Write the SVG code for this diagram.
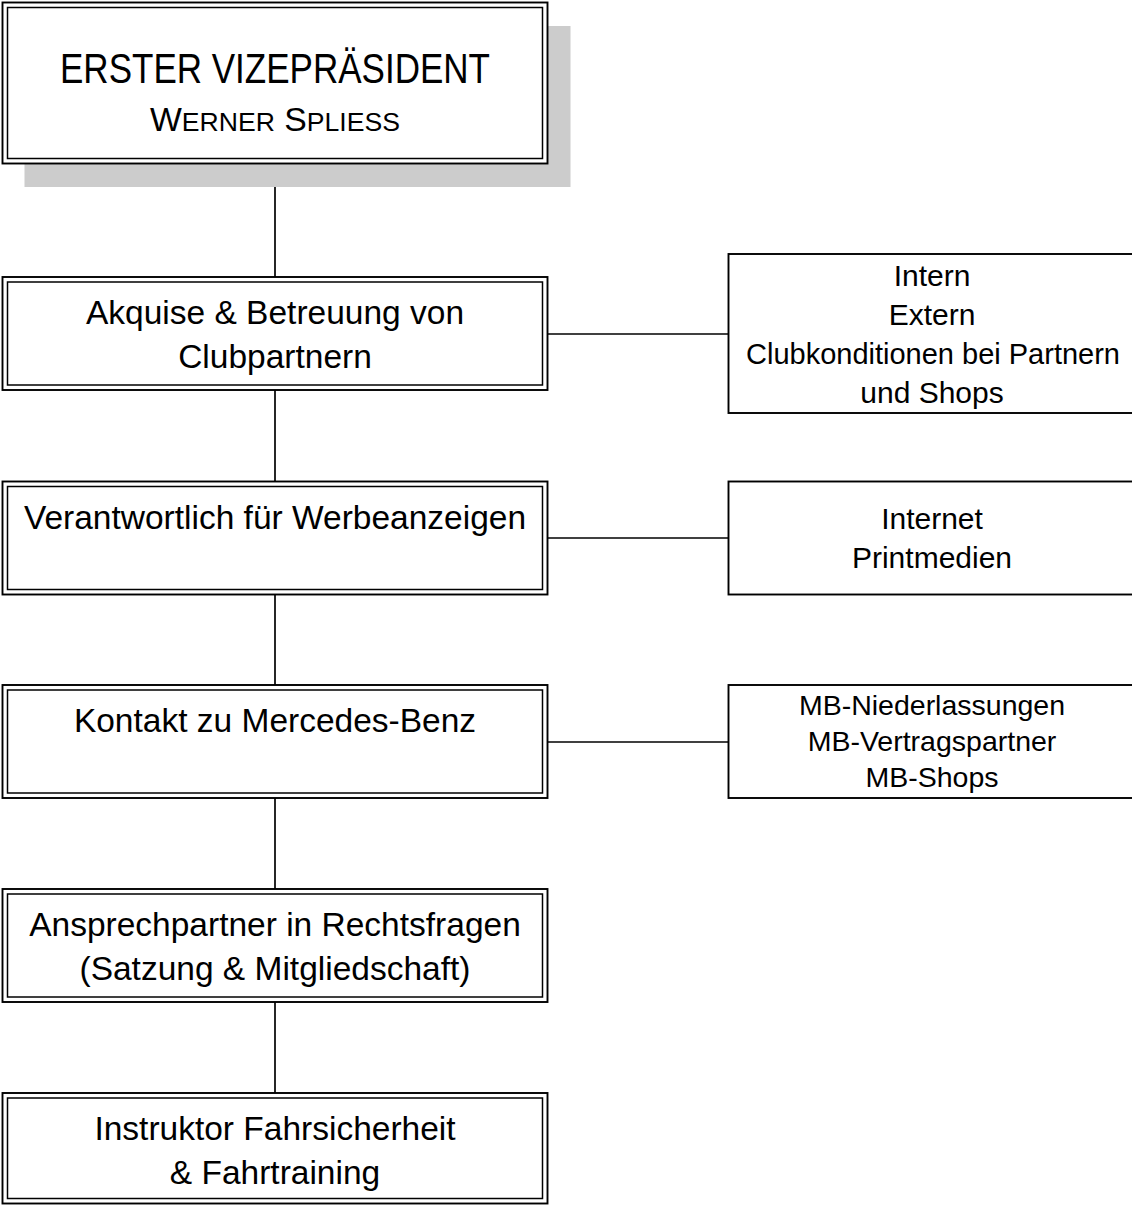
<svg xmlns="http://www.w3.org/2000/svg" width="1132" height="1206" viewBox="0 0 1132 1206">
<style>
.o{fill:none;stroke:#000;stroke-width:1.9}
.i{fill:none;stroke:#000;stroke-width:1.5}
.r{fill:#fff;stroke:#000;stroke-width:1.9}
.bg{fill:#fff}
.t{font-family:"Liberation Sans",Arial,sans-serif;font-size:33.5px;fill:#000;text-anchor:middle}
.s{font-family:"Liberation Sans",Arial,sans-serif;font-size:30px;fill:#000;text-anchor:middle}
.s2{font-family:"Liberation Sans",Arial,sans-serif;font-size:28.5px;fill:#000;text-anchor:middle}
.c{fill:none;stroke:#000;stroke-width:1.7}
</style>
<rect width="1132" height="1206" fill="#fff"/>
<g id="connectors">
<line class="c" x1="275" y1="163" x2="275" y2="277"/>
<line class="c" x1="275" y1="390" x2="275" y2="481.5"/>
<line class="c" x1="275" y1="594.5" x2="275" y2="685"/>
<line class="c" x1="275" y1="798" x2="275" y2="889"/>
<line class="c" x1="275" y1="1002" x2="275" y2="1093"/>
<line class="c" x1="547.5" y1="334" x2="728.5" y2="334"/>
<line class="c" x1="547.5" y1="538" x2="728.5" y2="538"/>
<line class="c" x1="547.5" y1="742" x2="728.5" y2="742"/>
</g>
<g id="vp">
<rect x="24.5" y="26" width="546" height="161" fill="#cccccc"/>
<rect x="2.5" y="2.5" width="545" height="161" class="bg"/>
<rect class="o" x="2.5" y="2.5" width="545" height="161"/>
<rect class="i" x="7.5" y="7.5" width="535" height="151"/>
<text x="275" y="83" font-family="'Liberation Sans',Arial,sans-serif" font-size="43" text-anchor="middle" textLength="430" lengthAdjust="spacingAndGlyphs">ERSTER VIZEPRÄSIDENT</text>
<text x="275" y="131" font-family="'Liberation Sans',Arial,sans-serif" font-size="33" text-anchor="middle" textLength="250" lengthAdjust="spacingAndGlyphs">W<tspan font-size="26">ERNER</tspan> S<tspan font-size="26">PLIESS</tspan></text>
</g>
<g id="akquise">
<rect class="r" x="2.5" y="277" width="545" height="113"/>
<rect class="i" x="7.5" y="282" width="535" height="103"/>
<text class="t" x="275" y="324">Akquise &amp; Betreuung von</text>
<text class="t" x="275" y="368">Clubpartnern</text>
</g>
<g id="werbung">
<rect class="r" x="2.5" y="481.5" width="545" height="113"/>
<rect class="i" x="7.5" y="486.5" width="535" height="103"/>
<text class="t" x="275" y="528.5">Verantwortlich für Werbeanzeigen</text>
</g>
<g id="mercedes">
<rect class="r" x="2.5" y="685" width="545" height="113"/>
<rect class="i" x="7.5" y="690" width="535" height="103"/>
<text class="t" x="275" y="732">Kontakt zu Mercedes-Benz</text>
</g>
<g id="recht">
<rect class="r" x="2.5" y="889" width="545" height="113"/>
<rect class="i" x="7.5" y="894" width="535" height="103"/>
<text class="t" x="275" y="936">Ansprechpartner in Rechtsfragen</text>
<text class="t" x="275" y="980">(Satzung &amp; Mitgliedschaft)</text>
</g>
<g id="instruktor">
<rect class="r" x="2.5" y="1093" width="545" height="110.5"/>
<rect class="i" x="7.5" y="1098" width="535" height="100.5"/>
<text class="t" x="275" y="1140">Instruktor Fahrsicherheit</text>
<text class="t" x="275" y="1184">&amp; Fahrtraining</text>
</g>
<g id="partner-detail">
<rect class="r" x="728.5" y="254" width="408" height="159"/>
<text class="s" x="932" y="286">Intern</text>
<text class="s" x="932" y="325">Extern</text>
<text class="s" x="933" y="364" textLength="374" lengthAdjust="spacingAndGlyphs">Clubkonditionen bei Partnern</text>
<text class="s" x="932" y="402.5">und Shops</text>
</g>
<g id="werbung-detail">
<rect class="r" x="728.5" y="481.5" width="408" height="113"/>
<text class="s" x="932" y="529">Internet</text>
<text class="s" x="932" y="568">Printmedien</text>
</g>
<g id="mercedes-detail">
<rect class="r" x="728.5" y="685" width="408" height="113"/>
<text class="s2" x="932" y="715">MB-Niederlassungen</text>
<text class="s2" x="932" y="751">MB-Vertragspartner</text>
<text class="s2" x="932" y="787">MB-Shops</text>
</g>
</svg>
